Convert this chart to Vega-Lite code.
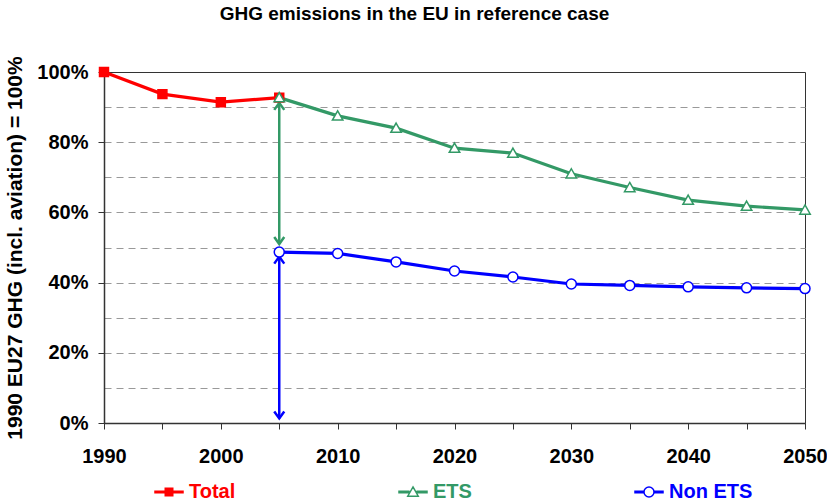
{
  "$schema": "https://vega.github.io/schema/vega-lite/v6.json",
  "width": 701,
  "height": 351,
  "autosize": {"type": "none"},
  "padding": {"left": 104, "top": 72, "right": 22, "bottom": 80},
  "background": "white",
  "title": {
    "text": "GHG emissions in the EU in reference case",
    "font": "Liberation Sans",
    "fontSize": 19,
    "fontWeight": "bold",
    "color": "#000000",
    "anchor": "middle",
    "frame": "group",
    "dx": -40,
    "offset": 32
  },
  "config": {
    "view": {"stroke": "#333333", "strokeWidth": 1},
    "font": "Liberation Sans"
  },
  "resolve": {"axis": {"y": "independent"}},
  "datasets": {
    "series": [
      {"series": "Total", "year": 1990, "value": 100},
      {"series": "Total", "year": 1995, "value": 93.7},
      {"series": "Total", "year": 2000, "value": 91.4},
      {"series": "Total", "year": 2005, "value": 92.7},
      {"series": "ETS", "year": 2005, "value": 92.7},
      {"series": "ETS", "year": 2010, "value": 87.5},
      {"series": "ETS", "year": 2015, "value": 84.0},
      {"series": "ETS", "year": 2020, "value": 78.3},
      {"series": "ETS", "year": 2025, "value": 76.9},
      {"series": "ETS", "year": 2030, "value": 71.0},
      {"series": "ETS", "year": 2035, "value": 67.1},
      {"series": "ETS", "year": 2040, "value": 63.5},
      {"series": "ETS", "year": 2045, "value": 61.8},
      {"series": "ETS", "year": 2050, "value": 60.7},
      {"series": "Non ETS", "year": 2005, "value": 48.7},
      {"series": "Non ETS", "year": 2010, "value": 48.3},
      {"series": "Non ETS", "year": 2015, "value": 45.9},
      {"series": "Non ETS", "year": 2020, "value": 43.3},
      {"series": "Non ETS", "year": 2025, "value": 41.6},
      {"series": "Non ETS", "year": 2030, "value": 39.6},
      {"series": "Non ETS", "year": 2035, "value": 39.2},
      {"series": "Non ETS", "year": 2040, "value": 38.8},
      {"series": "Non ETS", "year": 2045, "value": 38.5},
      {"series": "Non ETS", "year": 2050, "value": 38.3}
    ],
    "arrows": [
      {"series": "ETS", "year": 2005, "lo": 51.0, "hi": 91.2},
      {"series": "Non ETS", "year": 2005, "lo": 1.3, "hi": 47.4}
    ]
  },
  "layer": [
    {
      "data": {"name": "arrows"},
      "mark": {"type": "rule", "strokeWidth": 2.5},
      "encoding": {
        "x": {"field": "year", "type": "quantitative"},
        "y": {
          "field": "lo",
          "type": "quantitative",
          "axis": {
            "orient": "left",
            "values": [10, 20, 30, 40, 50, 60, 70, 80, 90],
            "grid": true,
            "gridDash": [7, 5],
            "gridColor": "#999999",
            "gridWidth": 1,
            "labels": false,
            "ticks": false,
            "domain": false,
            "title": null
          }
        },
        "y2": {"field": "hi"},
        "color": {"field": "series", "type": "nominal"}
      }
    },
    {
      "data": {"name": "series"},
      "mark": {"type": "line", "strokeWidth": 3.2},
      "encoding": {
        "x": {
          "field": "year",
          "type": "quantitative",
          "scale": {"domain": [1990, 2050], "nice": false, "zero": false},
          "axis": {
            "values": [1990, 1995, 2000, 2005, 2010, 2015, 2020, 2025, 2030, 2035, 2040, 2045, 2050],
            "format": "d",
            "labelExpr": "datum.value % 10 === 0 ? datum.label : ''",
            "grid": false,
            "title": null,
            "tickSize": 6,
            "tickColor": "#333333",
            "domainColor": "#333333",
            "domainWidth": 1.5,
            "labelFont": "Liberation Sans",
            "labelFontSize": 20,
            "labelFontWeight": "bold",
            "labelColor": "#000000",
            "labelPadding": 17,
            "labelFlush": false,
            "labelOverlap": false
          }
        },
        "y": {
          "field": "value",
          "type": "quantitative",
          "scale": {"domain": [0, 100], "nice": false},
          "axis": {
            "orient": "left",
            "values": [0, 20, 40, 60, 80, 100],
            "labelExpr": "datum.value + '%'",
            "grid": false,
            "tickSize": 6,
            "tickColor": "#333333",
            "domainColor": "#333333",
            "domainWidth": 1.5,
            "labelFont": "Liberation Sans",
            "labelFontSize": 20,
            "labelFontWeight": "bold",
            "labelColor": "#000000",
            "labelPadding": 10,
            "labelOverlap": false,
            "title": "1990 EU27 GHG (incl. aviation) = 100%",
            "titleFont": "Liberation Sans",
            "titleFontSize": 21,
            "titleFontWeight": "bold",
            "titleColor": "#000000",
            "titlePadding": 11
          }
        },
        "color": {
          "field": "series",
          "type": "nominal",
          "scale": {"domain": ["Total", "ETS", "Non ETS"], "range": ["#FF0000", "#339966", "#0000FF"]},
          "legend": {
            "orient": "none",
            "legendX": 50,
            "legendY": 405,
            "direction": "horizontal",
            "title": null,
            "symbolType": {"expr": "datum.value === 'Total' ? 'M-1,-0.054H-0.32V0.054H-1Z M0.32,-0.054H1V0.054H0.32Z M-0.268,-0.268H0.268V0.268H-0.268Z M-0.161,-0.161H0.161V0.161H-0.161Z M-0.054,-0.054H0.054V0.054H-0.054Z' : datum.value === 'ETS' ? 'M-1,-0.054H-0.3V0.054H-1Z M0.3,-0.054H1V0.054H0.3Z M0,-0.36L0.375,0.3H-0.375Z' : 'M-1,-0.054H-0.357V0.054H-1Z M0.357,-0.054H1V0.054H0.357Z M0.357,0C0.357,0.197,0.197,0.357,0,0.357C-0.197,0.357,-0.357,0.197,-0.357,0C-0.357,-0.197,-0.197,-0.357,0,-0.357C0.197,-0.357,0.357,-0.197,0.357,0Z'"},
            "symbolSize": 784,
            "symbolStrokeWidth": 1.5,
            "symbolFillColor": {"expr": "datum.value === 'Total' ? '#FF0000' : '#FFFFFF'"},
            "symbolStrokeColor": {"expr": "datum.value === 'Total' ? '#FF0000' : datum.value === 'ETS' ? '#339966' : '#0000FF'"},
            "labelFont": "Liberation Sans",
            "labelFontSize": 20,
            "labelFontWeight": "bold",
            "labelOffset": 5,
            "labelColor": {"expr": "datum.value === 'Total' ? '#FF0000' : datum.value === 'ETS' ? '#339966' : '#0000FF'"},
            "columnPadding": 160
          }
        }
      }
    },
    {
      "data": {"name": "arrows"},
      "mark": {"type": "point", "filled": false, "strokeWidth": 2.5, "size": 100, "shape": "M-1,1.4L0,0L1,1.4", "opacity": 1},
      "encoding": {
        "x": {"field": "year", "type": "quantitative"},
        "y": {"field": "hi", "type": "quantitative", "axis": null},
        "color": {"field": "series", "type": "nominal"}
      }
    },
    {
      "data": {"name": "arrows"},
      "mark": {"type": "point", "filled": false, "strokeWidth": 2.5, "size": 100, "shape": "M-1,-1.4L0,0L1,-1.4", "opacity": 1},
      "encoding": {
        "x": {"field": "year", "type": "quantitative"},
        "y": {"field": "lo", "type": "quantitative", "axis": null},
        "color": {"field": "series", "type": "nominal"}
      }
    },
    {
      "data": {"name": "series"},
      "mark": {"type": "point", "filled": true, "size": 784, "strokeWidth": 1.5, "opacity": 1},
      "encoding": {
        "x": {"field": "year", "type": "quantitative"},
        "y": {"field": "value", "type": "quantitative", "axis": null},
        "shape": {
          "field": "series",
          "type": "nominal",
          "scale": {"range": [
            "M0,-0.36L0.375,0.3H-0.375Z",
            "M0.357,0C0.357,0.197,0.197,0.357,0,0.357C-0.197,0.357,-0.357,0.197,-0.357,0C-0.357,-0.197,-0.197,-0.357,0,-0.357C0.197,-0.357,0.357,-0.197,0.357,0Z",
            "M-0.32,-0.32H0.32V0.32H-0.32Z"
          ]},
          "legend": null
        },
        "fill": {
          "field": "series",
          "type": "nominal",
          "scale": {"range": ["#FFFFFF", "#FFFFFF", "#FF0000"]},
          "legend": null
        },
        "stroke": {
          "field": "series",
          "type": "nominal",
          "scale": {"range": ["#339966", "#0000FF", "#FF0000"]},
          "legend": null
        }
      }
    }
  ]
}
